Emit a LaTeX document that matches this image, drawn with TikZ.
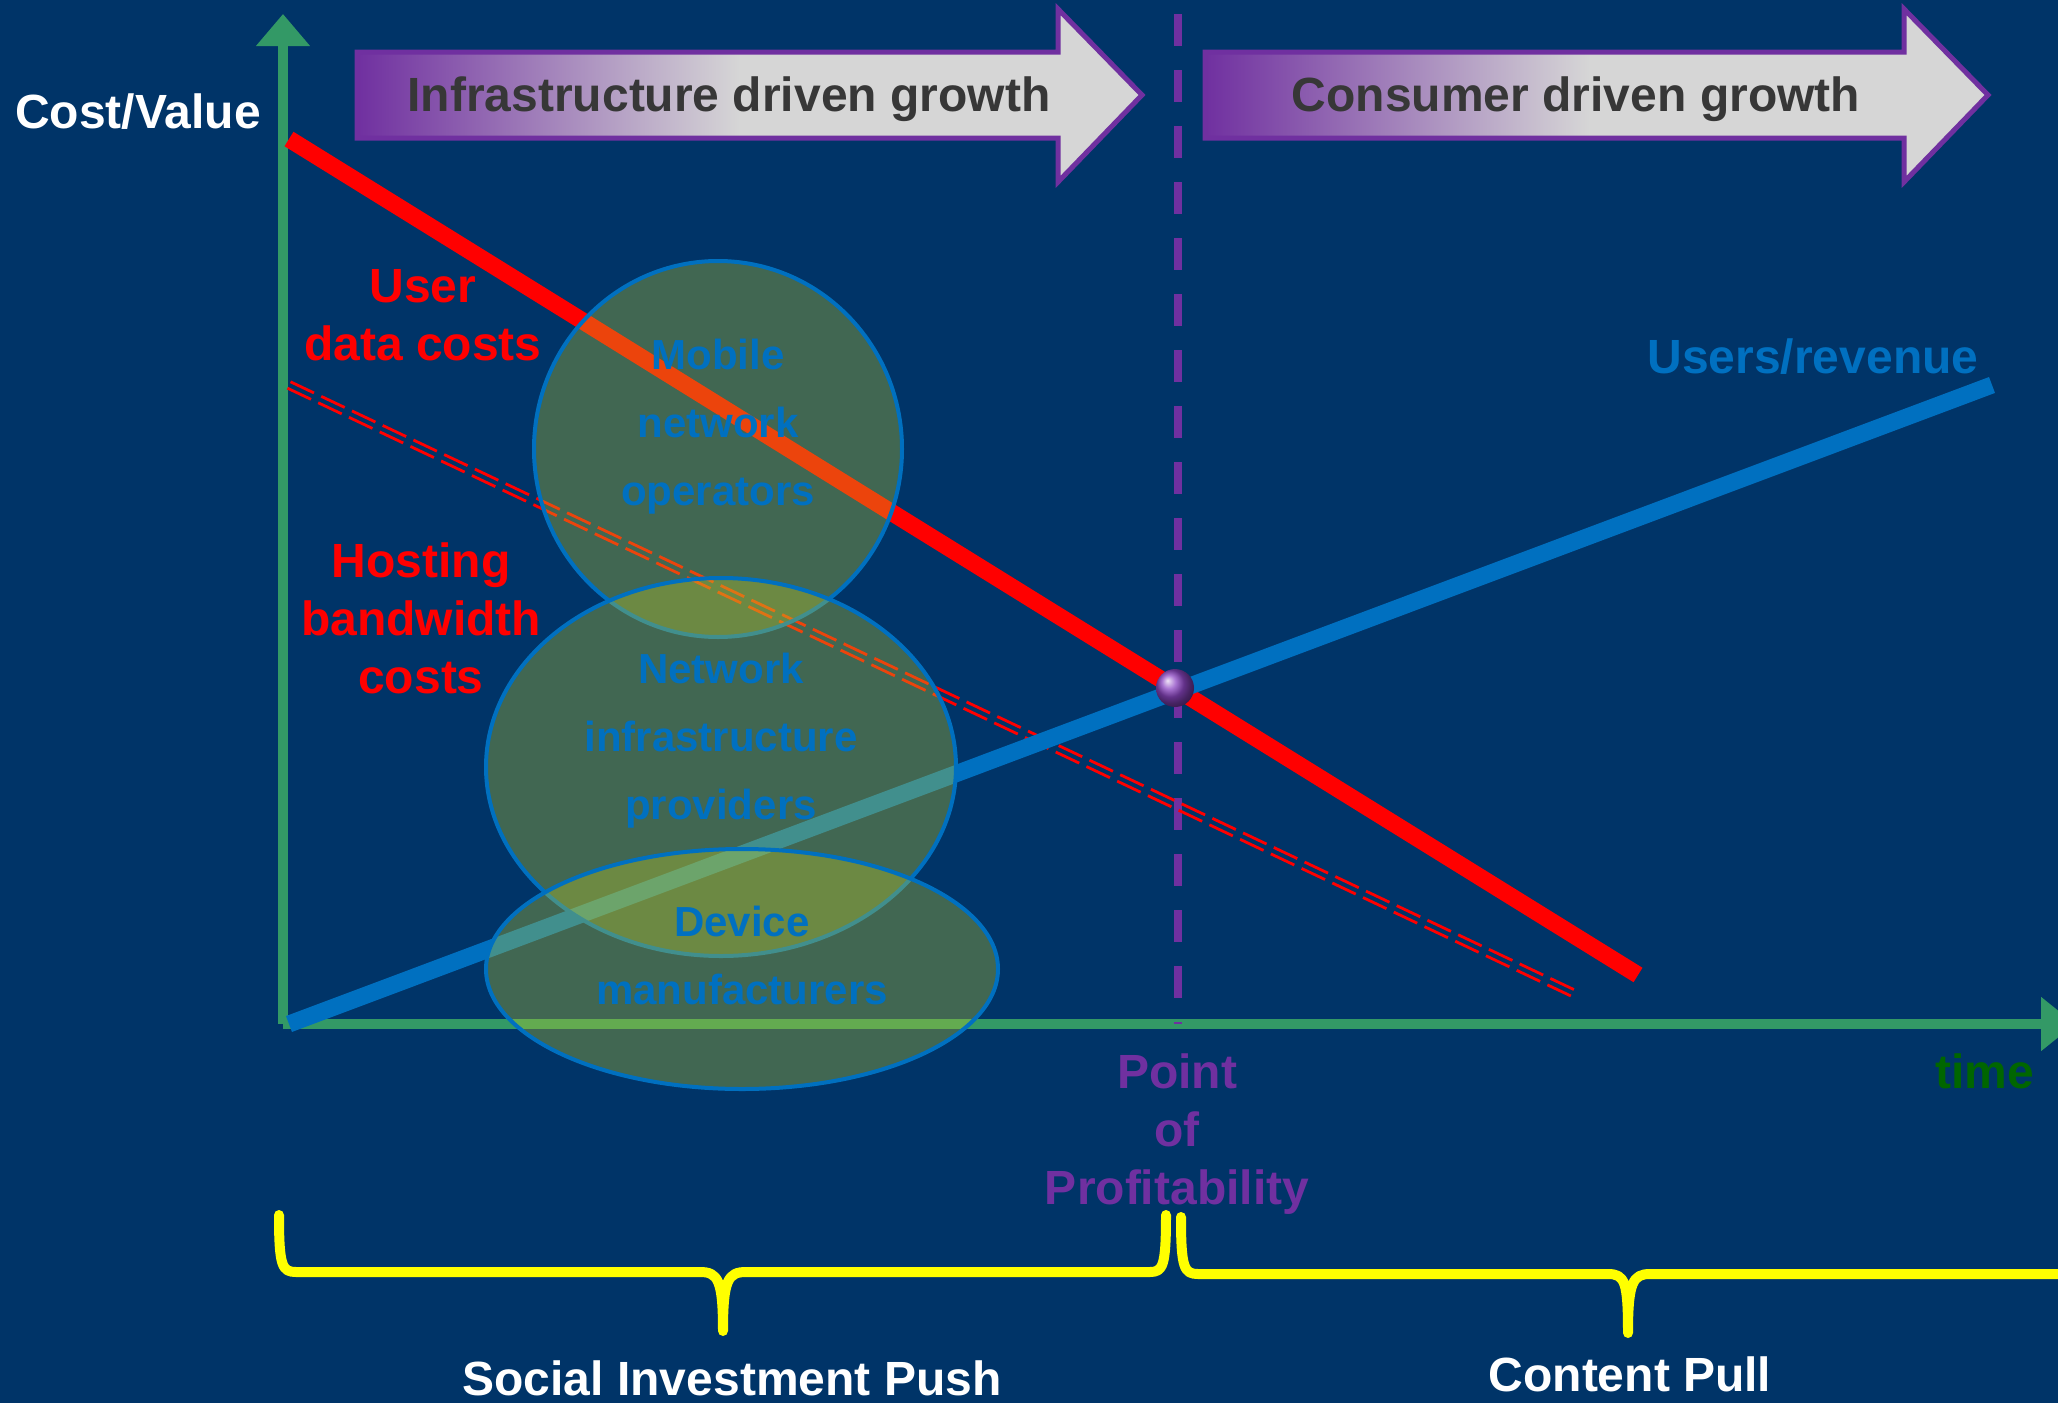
\documentclass[tikz,border=0pt]{standalone}
\usepackage{fontspec}
\setmainfont{Liberation Sans}
\usetikzlibrary{arrows.meta,shapes.geometric}
\definecolor{bg}{RGB}{0,52,104}
\definecolor{axisgreen}{RGB}{51,153,102}
\definecolor{linered}{RGB}{255,0,0}
\definecolor{lineblue}{RGB}{0,112,192}
\definecolor{ppurple}{RGB}{112,48,160}
\definecolor{ballpurple}{RGB}{140,70,195}
\definecolor{ellfill}{RGB}{198,208,38}
\definecolor{arrowgray}{RGB}{214,214,214}
\definecolor{darktext}{RGB}{55,55,55}
\definecolor{timegreen}{RGB}{0,102,0}
\definecolor{braceyellow}{RGB}{255,255,0}
\begin{document}
\begin{tikzpicture}[x=0.5pt,y=-0.5pt,
  lbl/.style={font=\fontsize{24}{29}\selectfont\bfseries, align=center, inner sep=0pt},
  elltext/.style={font=\fontsize{21}{34}\selectfont\bfseries, text=lineblue, align=center, inner sep=0pt},
  group/.style={ellipse, draw=lineblue, line width=2pt, fill=ellfill, fill opacity=0.33, inner sep=0pt},
  axisline/.style={draw=axisgreen, line width=5pt},
  costline/.style={draw=linered, line width=8.5pt},
  valueline/.style={draw=lineblue, line width=8.5pt},
  hostdash/.style={draw=linered, line width=1.4pt, dash pattern=on 13pt off 4pt},
  profitdash/.style={draw=ppurple, line width=4pt, dash pattern=on 16pt off 12pt},
  phasearrow/.style={draw=ppurple, line width=2.5pt, line join=miter},
  bracepath/.style={draw=braceyellow, line width=5pt, line join=round, line cap=round}
]
\fill[bg] (0,0) rectangle (2058,1403);
\clip (0,0) rectangle (2058,1403);

% phase arrows
\fill[arrowgray] (357,52) -- (1058,52) -- (1058,9) -- (1142,95) -- (1058,182) -- (1058,138) -- (357,138) -- cycle;
\shade[left color=ppurple, right color=arrowgray] (357,52) rectangle (740,138);
\draw[phasearrow] (357,52) -- (1058,52) -- (1058,9) -- (1142,95) -- (1058,182) -- (1058,138) -- (357,138) -- cycle;
\fill[arrowgray] (1205,52) -- (1904,52) -- (1904,9) -- (1988,95) -- (1904,182) -- (1904,138) -- (1205,138) -- cycle;
\shade[left color=ppurple, right color=arrowgray] (1205,52) rectangle (1590,138);
\draw[phasearrow] (1205,52) -- (1904,52) -- (1904,9) -- (1988,95) -- (1904,182) -- (1904,138) -- (1205,138) -- cycle;
\node[lbl, text=darktext] (infra) at (729,99) {Infrastructure driven growth};
\node[lbl, text=darktext] (cons) at (1576,99) {Consumer driven growth};

% axes
\coordinate (o) at (283,1024);
\coordinate (ytop) at (283,14);
\coordinate (xend) at (2075,1024);
\draw[axisline, -{Triangle[length=16pt,width=26pt]}] (o) -- (ytop);
\draw[axisline, -{Triangle[length=17pt,width=26pt]}] (o) -- (xend);

% profitability line
\coordinate (pt) at (1178,14);
\coordinate (pb) at (1178,1024);
\draw[profitdash] (pt) -- (pb);

% curves
\coordinate (r1) at (289,139);
\coordinate (r2) at (1638,975);
\coordinate (h1) at (289,385);
\coordinate (h2) at (1575,994);
\coordinate (b1) at (289,1024);
\coordinate (b2) at (1992,385);
\draw[costline] (r1) -- (r2);
\draw[hostdash] ([shift={(-1.5,3.2)}]h1) -- ([shift={(-1.5,3.2)}]h2);
\draw[hostdash] ([shift={(1.5,-3.2)}]h1) -- ([shift={(1.5,-3.2)}]h2);
\draw[valueline] (b1) -- (b2);
\node[circle, minimum size=19pt, inner sep=0pt, shading=ball, ball color=ballpurple] (ball) at (1175,688) {};

% stakeholder groups
\node[group, minimum width=184pt, minimum height=188pt] (mno) at (718,449) {};
\node[group, minimum width=235pt, minimum height=189pt] (nip) at (721,767) {};
\node[group, minimum width=256pt, minimum height=120pt] (dev) at (742,969) {};
\node[elltext] (mnot) at (718,427) {Mobile\\network\\operators};
\node[elltext] (nipt) at (721,741) {Network\\infrastructure\\providers};
\node[elltext] (devt) at (742,955) {Device\\manufacturers};

% labels
\node[lbl, text=white] (cv) at (138,112) {Cost/Value};
\node[lbl, text=linered] (udc) at (423,315) {User\\data costs};
\node[lbl, text=linered] (hbc) at (421,618) {Hosting\\bandwidth\\costs};
\node[lbl, text=lineblue] (ur) at (1813,357) {Users/revenue};
\node[lbl, text=ppurple] (pop) at (1177,1134) {Point\\of\\Profitability};
\node[lbl, text=timegreen] (time) at (1985,1071) {time};

% braces
\draw[bracepath] (279,1215) .. controls (279,1266) and (282,1272) .. (296,1272) -- (700,1272) .. controls (718,1272) and (723,1280) .. (723,1331) .. controls (723,1280) and (728,1272) .. (746,1272) -- (1150,1272) .. controls (1163,1272) and (1166,1266) .. (1166,1215);
\draw[bracepath] (1181,1217) .. controls (1181,1268) and (1184,1274) .. (1198,1274) -- (1608,1274) .. controls (1625,1274) and (1628,1282) .. (1628,1333) .. controls (1628,1282) and (1633,1274) .. (1650,1274) -- (2070,1274);
\node[lbl, text=white] (sip) at (732,1378) {Social Investment Push};
\node[lbl, text=white] (cp) at (1630,1374) {Content Pull};
\end{tikzpicture}
\end{document}
